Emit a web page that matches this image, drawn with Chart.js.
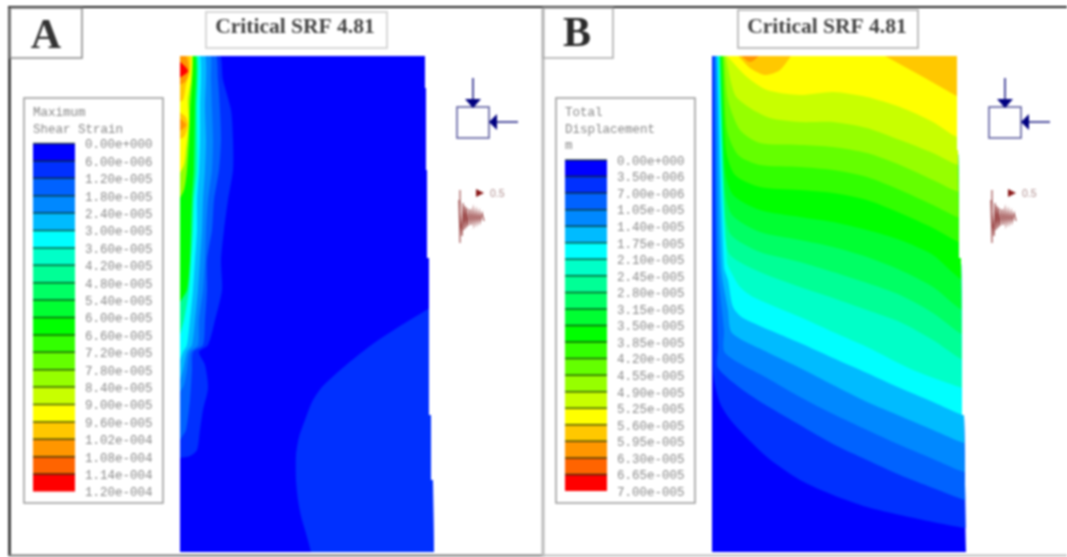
<!DOCTYPE html>
<html>
<head>
<meta charset="utf-8">
<title>Critical SRF 4.81</title>
<script src="https://cdn.jsdelivr.net/npm/chart.js@4"></script>
<style>
  body { margin: 0; background: #fff; }
  canvas { display: block; filter: blur(0.8px); }
</style>
</head>
<body>
<canvas id="grafica" width="1067" height="557"></canvas>
<script>
// colores de la escala (20 bandas, iguales en los dos paneles)
const bandColors = ["#0000ff","#0030ff","#0062ff","#0088ff","#00bbff","#00ffff","#00ffc8","#00ff96","#00ff64","#00ff32",
  "#00ff00","#32ff00","#64ff00","#96ff00","#c8ff00","#ffff00","#ffc800","#ff9600","#ff6400","#ff0000"];

const shearTitle = ["Maximum", "Shear Strain"];
const shearTicks = ["0.00e+000","6.00e-006","1.20e-005","1.80e-005","2.40e-005","3.00e-005","3.60e-005","4.20e-005","4.80e-005","5.40e-005","6.00e-005","6.60e-005","7.20e-005","7.80e-005","8.40e-005","9.00e-005","9.60e-005","1.02e-004","1.08e-004","1.14e-004","1.20e-004"];
const dispTitle = ["Total", "Displacement", "m"];
const dispTicks = ["0.00e+000","3.50e-006","7.00e-006","1.05e-005","1.40e-005","1.75e-005","2.10e-005","2.45e-005","2.80e-005","3.15e-005","3.50e-005","3.85e-005","4.20e-005","4.55e-005","4.90e-005","5.25e-005","5.60e-005","5.95e-005","6.30e-005","6.65e-005","7.00e-005"];

// Panel A: contornos de deformacion, [x, y]
const shearBase = [[180,56],[425,56],[425,88],[426,88],[426,170],[427,170],[427,258],[429,258],[429,415],[431,415],[431,480],[433,480],[434,552],[180,552]];
const shearBlob = [[440,302],[400,326],[370,346],[345,366],[322,387],[312,402],[305,420],[299,437],[296,455],[296,480],[298,500],[301,516],[305,530],[311,552],[312,560],[440,560]];
const shearL1 = [[180,50],[218,50],[223,80],[231,110],[233,140],[233,170],[228,200],[224,230],[221,260],[222,290],[215,320],[208,345],[199,352],[205,365],[208,388],[203,410],[200,430],[197,450],[190,456],[180,458]];
const shearL2 = [[180,50],[214,50],[218,80],[220,110],[221,140],[219,170],[214,200],[212,230],[207,260],[207,290],[205,320],[203,345],[193,352],[192,370],[190,400],[186,430],[180,440]];
const shearL3 = [[180,50],[209,50],[211,80],[212,110],[213,140],[212,170],[208,200],[206,230],[205,260],[203,290],[199,320],[198,345],[190,352],[187,370],[184,385],[180,392]];
const shearL4 = [[180,50],[204,50],[205,110],[206,140],[205,170],[203,200],[202,230],[200,260],[198,290],[195,320],[192,345],[187,352],[183,370],[180,380]];
const shearL5 = [[180,50],[199,50],[200,110],[200,140],[199,170],[197,200],[197,230],[195,260],[193,290],[190,320],[187,345],[183,352],[180,360]];
const shearL7 = [[180,50],[197,50],[197,110],[197,170],[194,200],[193,230],[191,260],[189,290],[184,320],[180,335]];
const shearL10 = [[180,50],[195,50],[195,110],[194,170],[192,200],[191,230],[190,260],[187,290],[180,302]];
const shearL13 = [[176,50],[192,50],[190,110],[189,140],[187,170],[184,190],[176,205]];
const shearL15 = [[176,50],[191,50],[191,80],[188,100],[189,122],[186,150],[184,165],[176,180]];
const shearL16 = [[176,50],[189,50],[190,71],[186,85],[183,100],[176,103]];
const shearL16b = [[176,110],[185,116],[188,124],[184,137],[176,140]];
const shearL17 = [[176,50],[186,56],[189,71],[185,82],[176,86]];
const shearL17b = [[176,115],[186,125],[176,134]];
const shearL19 = [[176,58],[188,71],[176,80]];

// Panel B: contornos de desplazamiento, [x, y]
const dispBase = [[712,56],[957,56],[957,150],[958,150],[959,258],[961,258],[962,415],[964,415],[966,552],[712,552]];
const dispL1 = [[712.5,56],[713,370],[720,403],[733,423],[767,457],[800,480],[833,495],[867,507],[900,515],[933,522],[965,528]];
const dispL2 = [[713.5,56],[716,267],[718,347],[718,368],[750,395],[800,425],[833,444],[867,460],[900,475],[933,488],[965,500]];
const dispL3 = [[715,56],[718,267],[724,330],[725,353],[767,378],[800,397],[833,414],[867,430],[900,445],[933,459],[964,472]];
const dispL4 = [[716.5,56],[721,267],[728,310],[732,333],[767,352],[800,368],[833,385],[867,402],[900,416],[933,430],[964,443]];
const dispL5 = [[717.5,56],[724,267],[728,280],[733,307],[743,318],[800,343],[833,358],[867,373],[900,388],[933,402],[963,415]];
const dispL6 = [[718.5,56],[727,262],[730,270],[740,287],[753,297],[800,317],[833,332],[867,347],[913,370],[963,388]];
const dispL7 = [[719,56],[725,230],[730,255],[760,272],[800,287],[833,298],[867,310],[900,322],[933,340],[963,360]];
const dispL8 = [[720,56],[725,210],[731,235],[760,252],[800,262],[833,272],[867,283],[900,295],[933,313],[963,335]];
const dispL9 = [[720.5,56],[725,190],[732,215],[760,232],[800,240],[833,247],[867,257],[900,270],[933,287],[962,310]];
const dispL10 = [[721,56],[725,170],[733,195],[760,210],[800,217],[833,222],[867,230],[900,240],[933,255],[962,280]];
const dispL11 = [[722,56],[726,150],[735,175],[760,187],[800,190],[833,193],[867,200],[900,213],[933,228],[961,243]];
const dispL12 = [[723,56],[727,130],[738,155],[760,165],[800,167],[833,170],[867,177],[900,190],[933,205],[960,218]];
const dispL13 = [[724,56],[728,100],[740,130],[760,143],[800,145],[833,147],[867,153],[900,165],[933,180],[959,192]];
const dispL14 = [[725.5,56],[735,95],[750,108],[770,118],[800,122],[833,122],[867,128],[900,140],[933,153],[958,165]];
const dispL15 = [[727,56],[747,77],[767,90],[800,95],[833,92],[867,97],[900,107],[933,122],[957,137]];
const dispL16 = [[733,50],[750,68],[765,75],[780,70],[795,50]];
const dispL16b = [[885,56],[925,78],[960,98],[970,50],[880,50]];
const dispL17 = [[736,50],[750,62],[765,50]];

// traza del sismo (panel A), el panel B es la misma traza desplazada
const waveTrace = [[460,190],[460,243],[459,200],[462,236],[463,203],[464,230],[465,206],[466,228],[467,208],[468,226],[470,209],[471,225],[473,210],[474,224],[476,211],[477,223],[479,212],[480,222],[482,213],[484,221]];
const waveShiftB = 532;

const toPoints = (pts) => pts.map((p) => ({ x: p[0], y: p[1] }));
const area = (pts, band, tension) => ({
  data: toPoints(pts), showLine: true, fill: "shape", tension: tension === undefined ? 0.25 : tension,
  backgroundColor: bandColors[band], borderColor: bandColors[band], borderWidth: 0, pointRadius: 0,
});
// banda de B: todo lo que queda por encima de la curva, el recorte hace el resto
const banda = (pts, band) => {
  const ultimo = pts[pts.length - 1];
  return area(pts.concat([[975, ultimo[1]], [975, 40], [pts[0][0], 40]]), band);
};

// cada conjunto tapa al anterior
const capas = [
  area(shearBase, 0, 0), area(shearBlob, 1), area(shearL1, 1), area(shearL2, 2), area(shearL3, 3), area(shearL4, 4),
  area(shearL5, 5), area(shearL7, 7), area(shearL10, 10), area(shearL13, 13), area(shearL15, 15),
  area(shearL16, 16), area(shearL16b, 16), area(shearL17, 17), area(shearL17b, 17), area(shearL19, 19),
  area(dispBase, 0, 0),
  banda(dispL1, 1), banda(dispL2, 2), banda(dispL3, 3), banda(dispL4, 4), banda(dispL5, 5), banda(dispL6, 6),
  banda(dispL7, 7), banda(dispL8, 8), banda(dispL9, 9), banda(dispL10, 10), banda(dispL11, 11), banda(dispL12, 12),
  banda(dispL13, 13), banda(dispL14, 14), banda(dispL15, 15), area(dispL16, 16), area(dispL16b, 16, 0), area(dispL17, 17),
];
capas.forEach((c, i) => { c.order = capas.length - i + 1; });

// recorta las bandas al contorno de cada panel, las trazas del sismo van sin recorte
let recortando = false;
const recorte = {
  id: "recorte",
  beforeDatasetsDraw(chart) {
    const ctx = chart.ctx;
    const x = chart.scales.x, y = chart.scales.y;
    ctx.save();
    ctx.beginPath();
    [shearBase, dispBase].forEach((borde) => {
      borde.forEach((p, i) => {
        if (i === 0) ctx.moveTo(x.getPixelForValue(p[0]), y.getPixelForValue(p[1]));
        else ctx.lineTo(x.getPixelForValue(p[0]), y.getPixelForValue(p[1]));
      });
      ctx.closePath();
    });
    ctx.clip();
    recortando = true;
  },
  beforeDatasetDraw(chart, args) {
    if (args.index >= capas.length && recortando) {
      chart.ctx.restore();
      recortando = false;
    }
  },
};

// marcos, leyendas e iconos
const adornos = {
  id: "adornos",
  afterDatasetsDraw(chart) {
    const ctx = chart.ctx;
    const caja = (x, y, w, h, color, ancho) => {
      ctx.strokeStyle = color; ctx.lineWidth = ancho; ctx.strokeRect(x, y, w, h);
    };
    const linea = (x1, y1, x2, y2, color, ancho) => {
      ctx.strokeStyle = color; ctx.lineWidth = ancho;
      ctx.beginPath(); ctx.moveTo(x1, y1); ctx.lineTo(x2, y2); ctx.stroke();
    };
    const triangulo = (a, b, c, color) => {
      ctx.fillStyle = color;
      ctx.beginPath(); ctx.moveTo(a[0], a[1]); ctx.lineTo(b[0], b[1]); ctx.lineTo(c[0], c[1]); ctx.fill();
    };
    const texto = (t, x, y, font, color, align) => {
      ctx.font = font; ctx.fillStyle = color; ctx.textAlign = align || "left"; ctx.textBaseline = "middle";
      ctx.fillText(t, x, y);
    };

    ctx.save();
    // marco general
    linea(8, 7, 1067, 7, "#222", 2);
    linea(9.5, 7, 9.5, 556, "#222", 2.5);
    linea(9, 555.5, 543, 555.5, "#777", 2);
    linea(543, 555.5, 1067, 555.5, "#bbb", 2);
    linea(543, 9, 543, 557, "#bbb", 3);

    // letras
    caja(10, 8, 72, 50, "#888", 1.5);
    caja(543, 8, 70, 50, "#aaa", 1.5);
    texto("A", 46, 37, "bold 42px 'Liberation Serif'", "#333", "center");
    texto("B", 577, 35, "bold 42px 'Liberation Serif'", "#2a2a2a", "center");

    // titulos
    caja(206, 12, 181, 36, "#ccc", 1.5);
    caja(738, 10, 180, 38, "#aaa", 1.5);
    texto("Critical SRF 4.81", 295, 27, "bold 21.5px 'Liberation Serif'", "#444", "center");
    texto("Critical SRF 4.81", 827, 27, "bold 21.5px 'Liberation Serif'", "#444", "center");

    // leyendas
    const leyenda = (x0, titulo, ticks, yTop, paso) => {
      caja(x0, 98, 139, 405, "#999", 1.5);
      titulo.forEach((t, i) => texto(t, x0 + 9, 113 + i * 16.5, "12.5px 'Liberation Mono'", "#888"));
      bandColors.forEach((c, i) => {
        ctx.fillStyle = c;
        ctx.fillRect(x0 + 9, yTop + i * paso, 42, paso);
      });
      bandColors.forEach((c, i) => {
        linea(x0 + 9, yTop + i * paso, x0 + 51, yTop + i * paso, "rgba(0,30,0,0.7)", 1.5);
      });
      ticks.forEach((t, i) => texto(t, x0 + 61, yTop + 1.5 + i * paso, "12.5px 'Liberation Mono'", "#8a8a8a"));
    };
    leyenda(24, shearTitle, shearTicks, 143.5, 17.4);
    leyenda(556, dispTitle, dispTicks, 160, 16.55);

    // iconos de carga y sismo
    [0, waveShiftB].forEach((dx) => {
      caja(457 + dx, 107, 32, 31, "#55559a", 1.5);
      linea(473 + dx, 78, 473 + dx, 100, "#1a1a80", 1.5);
      triangulo([465 + dx, 99], [481 + dx, 99], [473 + dx, 108], "#000080");
      linea(518 + dx, 122, 496 + dx, 122, "#1a1a80", 1.5);
      triangulo([489 + dx, 122], [497 + dx, 114], [497 + dx, 130], "#000080");
      triangulo([476 + dx, 189], [476 + dx, 197], [484 + dx, 193], "#8b1a1a");
      texto("0.5", 490 + dx, 194, "10.5px 'Liberation Sans'", "#b09090");
    });
    ctx.restore();
  },
};

const trazaSismo = (dx) => ({
  data: toPoints(waveTrace.map((p) => [p[0] + dx, p[1]])), showLine: true, tension: 0,
  borderColor: "#a05050", borderWidth: 1.2, pointRadius: 0, fill: false, order: 0,
});

new Chart(document.getElementById("grafica"), {
  type: "scatter",
  data: { datasets: capas.concat([trazaSismo(0), trazaSismo(waveShiftB)]) },
  options: {
    responsive: false,
    animation: false,
    devicePixelRatio: 1,
    layout: { padding: 0 },
    plugins: { legend: { display: false }, tooltip: { enabled: false } },
    scales: {
      x: { type: "linear", min: 0, max: 1067, display: false },
      y: { type: "linear", min: 0, max: 557, reverse: true, display: false },
    },
  },
  plugins: [recorte, adornos],
});
</script>
</body>
</html>
